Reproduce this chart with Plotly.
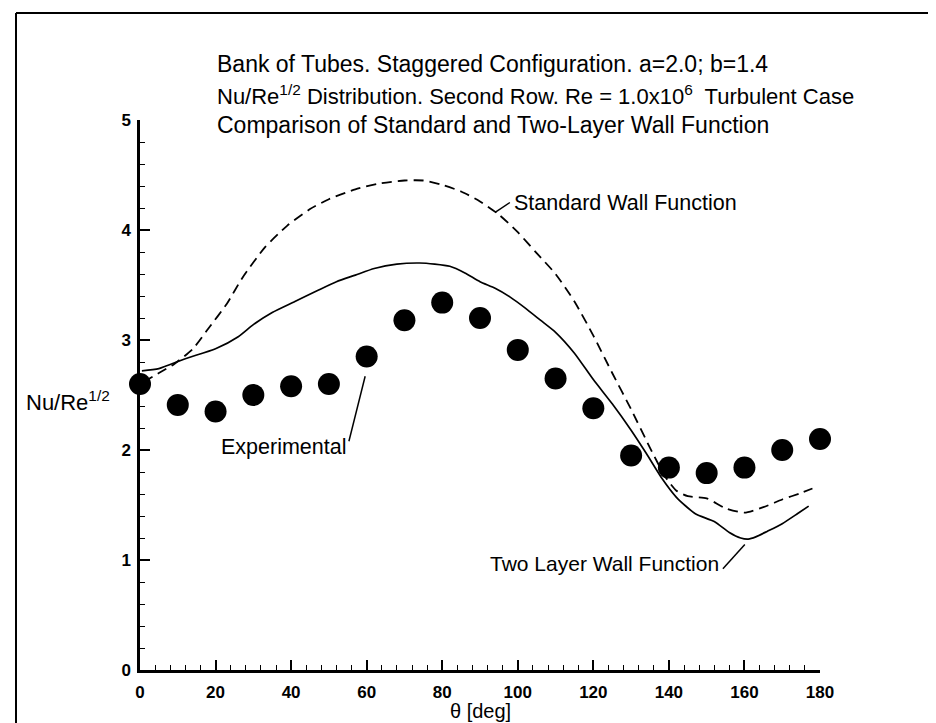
import plotly.graph_objects as go

# ---- data ----
theta_exp = [0, 10, 20, 30, 40, 50, 60, 70, 80, 90, 100, 110, 120, 130, 140, 150, 160, 170, 180]
nu_exp = [2.60, 2.41, 2.35, 2.50, 2.58, 2.60, 2.85, 3.18, 3.34, 3.20, 2.91, 2.65, 2.38, 1.95, 1.84, 1.79, 1.84, 2.00, 2.10]

theta_std = [1, 5, 9, 14, 18, 23, 27, 33, 39, 45, 50, 57, 63, 70, 75, 80, 85, 90, 95, 100,
             105, 110, 115, 120, 125, 130, 135, 139, 142, 145, 150, 155, 160, 165, 170, 175, 178]
nu_std = [2.62, 2.70, 2.78, 2.92, 3.10, 3.33, 3.56, 3.84, 4.04, 4.19, 4.28, 4.37, 4.42, 4.45, 4.45, 4.41,
          4.35, 4.26, 4.14, 3.98, 3.79, 3.60, 3.35, 3.04, 2.70, 2.37, 2.02, 1.76, 1.63, 1.58, 1.56, 1.47,
          1.43, 1.48, 1.55, 1.61, 1.65]

theta_two = [0.5, 5, 12, 20, 26, 30, 35, 41, 47, 52, 57, 62, 68, 74, 78, 82, 86, 90, 94, 98,
             102, 106, 110, 115, 120, 125, 130, 134, 138, 142, 147, 152, 156, 159, 161, 163, 166, 170, 174, 177]
nu_two = [2.72, 2.74, 2.83, 2.92, 3.03, 3.14, 3.25, 3.35, 3.45, 3.53, 3.59, 3.65, 3.69, 3.70, 3.69, 3.67,
          3.61, 3.53, 3.47, 3.39, 3.29, 3.18, 3.07, 2.88, 2.64, 2.42, 2.18, 1.97, 1.75, 1.57, 1.42, 1.35,
          1.25, 1.20, 1.19, 1.21, 1.26, 1.33, 1.42, 1.49]

x_ticks = [0, 20, 40, 60, 80, 100, 120, 140, 160, 180]
y_ticks = [0, 1, 2, 3, 4, 5]

title_lines = [
    "Bank of Tubes. Staggered Configuration. a=2.0; b=1.4",
    "Nu/Re<sup>1/2</sup> Distribution. Second Row. Re = 1.0x10<sup>6</sup>  Turbulent Case",
    "Comparison of Standard and Two-Layer Wall Function",
]
title_sizes = [23, 22, 23]

FONT = "Liberation Sans, Arial, sans-serif"

fig = go.Figure()
fig.add_trace(go.Scatter(x=theta_std, y=nu_std, mode="lines",
                         line=dict(color="black", width=1.8, dash="10px,6px", shape="spline", smoothing=0.6),
                         cliponaxis=False, showlegend=False))
fig.add_trace(go.Scatter(x=theta_two, y=nu_two, mode="lines",
                         line=dict(color="black", width=1.7, shape="spline", smoothing=0.6),
                         cliponaxis=False, showlegend=False))
fig.add_trace(go.Scatter(x=theta_exp, y=nu_exp, mode="markers",
                         marker=dict(color="black", size=22),
                         cliponaxis=False, showlegend=False))

L, R, T, B = 132, 124, 112, 61
W, H = 936, 723
PW, PH = W - L - R, H - T - B


def px(xp):
    return (xp - L) / PW


def py(yp):
    return (H - B - yp) / PH


annotations = []
for txt, yy, fs in zip(title_lines, [56, 87, 117], title_sizes):
    annotations.append(dict(text=txt, x=px(207), y=py(yy), xref="paper", yref="paper",
                            xanchor="left", yanchor="middle", showarrow=False,
                            font=dict(family=FONT, size=fs, color="black")))
annotations.append(dict(text="Nu/Re<sup>1/2</sup>", x=px(16), y=py(393), xref="paper", yref="paper",
                        xanchor="left", yanchor="middle", showarrow=False,
                        font=dict(family=FONT, size=22, color="black")))
annotations.append(dict(text="θ [deg]", x=px(472), y=py(703), xref="paper", yref="paper",
                        xanchor="center", yanchor="middle", showarrow=False,
                        font=dict(family=FONT, size=20, color="black")))
annotations.append(dict(text="Experimental", x=55, y=2.03, xanchor="right", yanchor="middle",
                        showarrow=False, font=dict(family=FONT, size=21.5, color="black")))
annotations.append(dict(text="Standard Wall Function", x=98.5, y=4.25, xanchor="left", yanchor="middle",
                        showarrow=False, font=dict(family=FONT, size=21.5, color="black")))
annotations.append(dict(text="Two Layer Wall Function", x=153.8, y=0.97, xanchor="right", yanchor="middle",
                        showarrow=False, font=dict(family=FONT, size=21, color="black")))

shapes = [
    dict(type="line", x0=55.3, y0=2.08, x1=59.6, y1=2.67, line=dict(color="black", width=1.5)),
    dict(type="line", x0=94.0, y0=4.16, x1=97.9, y1=4.25, line=dict(color="black", width=1.5)),
    dict(type="line", x0=154.3, y0=0.92, x1=160.1, y1=1.14, line=dict(color="black", width=1.5)),
    # page frame (top and left)
    dict(type="line", xref="paper", yref="paper", x0=px(8), y0=py(5), x1=px(936), y1=py(5),
         line=dict(color="black", width=2)),
    dict(type="line", xref="paper", yref="paper", x0=px(8), y0=py(5), x1=px(8), y1=py(723),
         line=dict(color="black", width=2)),
]

fig.update_layout(
    width=W, height=H,
    margin=dict(l=L, r=R, t=T, b=B, autoexpand=False),
    paper_bgcolor="white", plot_bgcolor="white",
    annotations=annotations, shapes=shapes,
    font=dict(family=FONT, color="black"),
    xaxis=dict(range=[0, 180], tickvals=x_ticks, ticktext=[str(v) for v in x_ticks],
               showgrid=False, zeroline=False, showline=True, linecolor="black", linewidth=2.5,
               ticks="inside", ticklen=10, tickwidth=1.5, tickcolor="black",
               minor=dict(dtick=4, ticks="inside", ticklen=5, tickwidth=1.2, tickcolor="black", showgrid=False),
               tickfont=dict(family=FONT, size=17, color="black", weight="bold"),
               ticklabelstandoff=5),
    yaxis=dict(range=[0, 5], tickvals=y_ticks, ticktext=[str(v) for v in y_ticks],
               showgrid=False, zeroline=False, showline=True, linecolor="black", linewidth=2.5,
               ticks="inside", ticklen=10, tickwidth=1.5, tickcolor="black",
               minor=dict(dtick=0.2, ticks="inside", ticklen=5, tickwidth=1.2, tickcolor="black", showgrid=False),
               tickfont=dict(family=FONT, size=17, color="black", weight="bold"),
               ticklabelstandoff=3),
)

fig.write_html("out.html")
